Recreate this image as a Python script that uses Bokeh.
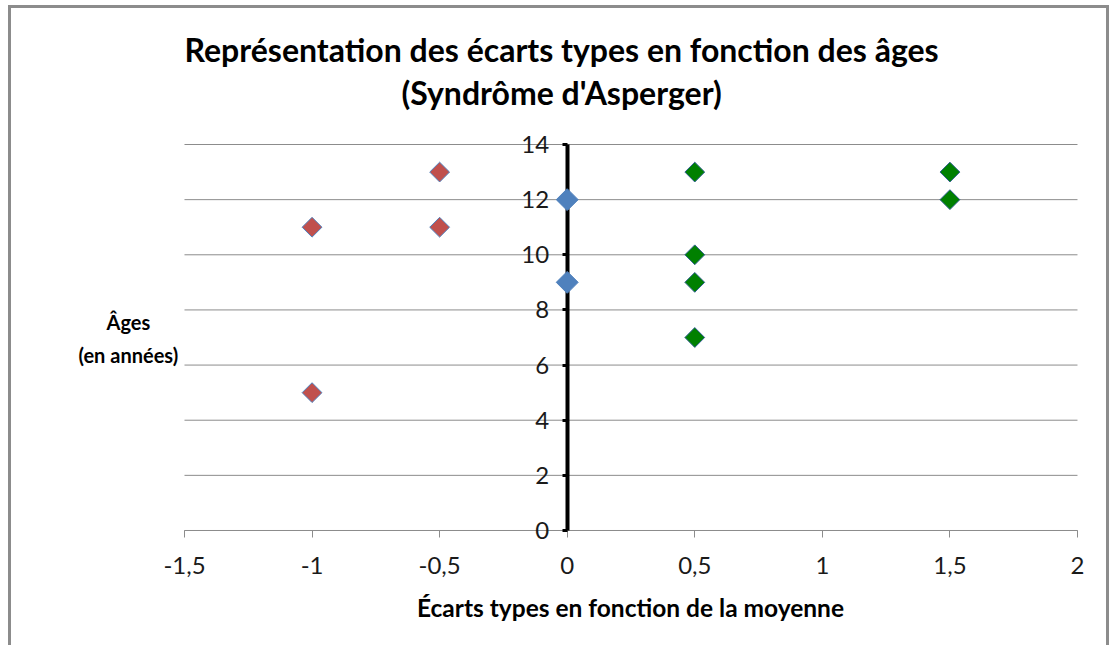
from bokeh.plotting import figure
from bokeh.models import Range1d, FixedTicker, Label
from bokeh.embed import file_html
from bokeh.resources import INLINE
import math

# ---- data ----
red_x = [-1.0, -1.0, -0.5, -0.5]
red_y = [11, 5, 13, 11]
blue_x = [0.0, 0.0]
blue_y = [12, 9]
green_x = [0.5, 0.5, 0.5, 0.5, 1.5, 1.5]
green_y = [13, 10, 9, 7, 13, 12]

x_ticks = [-1.5, -1.0, -0.5, 0.0, 0.5, 1.0, 1.5, 2.0]
x_tick_labels = ["-1,5", "-1", "-0,5", "0", "0,5", "1", "1,5", "2"]
y_ticks = [0, 2, 4, 6, 8, 10, 12, 14]

title_lines = ["Représentation des écarts types en fonction des âges", "(Syndrôme d'Asperger)"]
x_label = "Écarts types en fonction de la moyenne"
y_label_lines = ["Âges", "(en années)"]

FONT = "Lato"

# the plotting frame covers the whole canvas; the axes sit at fixed locations
p = figure(width=1101, height=640, output_backend="svg", toolbar_location=None,
           x_range=Range1d(-2.178, 2.1372), y_range=Range1d(-4.280, 18.933),
           min_border_left=0, min_border_right=0, min_border_top=0, min_border_bottom=0)
p.title.visible = False
p.styles = {"border-left": "3px solid #8c8c8c", "border-top": "3px solid #8c8c8c",
            "border-right": "3px solid #8c8c8c", "margin-left": "8px", "margin-top": "5px"}
p.outline_line_color = None
p.background_fill_color = "white"
p.border_fill_color = "white"

# grid lines (only over the axis span)
p.xgrid.visible = False
p.ygrid.visible = False
n = len(y_ticks)
p.segment(x0=[x_ticks[0]] * n, x1=[x_ticks[-1]] * n, y0=y_ticks, y1=y_ticks,
          line_color="#8c8c8c", line_width=1, level="underlay")

# x axis at y = 0
xa = p.xaxis[0]
xa.fixed_location = 0
xa.bounds = (x_ticks[0], x_ticks[-1])
xa.ticker = FixedTicker(ticks=x_ticks)
xa.major_label_overrides = {t: l for t, l in zip(x_ticks, x_tick_labels)}
xa.axis_line_color = "#8c8c8c"
xa.major_tick_line_color = "#8c8c8c"
xa.major_tick_in = 0
xa.major_tick_out = 7
xa.minor_tick_line_color = None
xa.major_label_text_font = FONT
xa.major_label_text_font_size = "24px"
xa.major_label_text_color = "#1a1a1a"
xa.major_label_standoff = 20

# y axis at x = 0
ya = p.yaxis[0]
ya.fixed_location = 0
ya.bounds = (y_ticks[0], y_ticks[-1])
ya.ticker = FixedTicker(ticks=y_ticks)
ya.axis_line_color = "black"
ya.axis_line_width = 4
ya.major_tick_line_color = "black"
ya.major_tick_line_width = 3
ya.major_tick_in = 0
ya.major_tick_out = 5
ya.minor_tick_line_color = None
ya.major_label_text_font = FONT
ya.major_label_text_font_size = "24px"
ya.major_label_text_color = "#1a1a1a"
ya.major_label_standoff = 13

# markers (rotated squares = Excel diamonds)
ang = math.pi / 4
p.scatter(red_x, red_y, marker="square", size=14, angle=ang,
          fill_color="#C0504D", line_color="#4F81BD", line_width=1, level="overlay")
p.scatter(green_x, green_y, marker="square", size=14, angle=ang,
          fill_color="#008000", line_color="#2F5F8F", line_width=1, level="overlay")
p.scatter(blue_x, blue_y, marker="square", size=15.5, angle=ang,
          fill_color="#4F81BD", line_color="#4F81BD", line_width=1, level="overlay")

# title (two centered lines)
for ty, txt in zip([17.44, 15.90], title_lines):
    p.add_layout(Label(x=-0.022, y=ty, text=txt, text_align="center", text_baseline="middle",
                       text_font=FONT, text_font_style="bold", text_font_size="32px",
                       text_color="#000000"))

# x axis title
p.add_layout(Label(x=0.248, y=-2.79, text=x_label, text_align="center", text_baseline="middle",
                   text_font=FONT, text_font_style="bold", text_font_size="24.5px",
                   text_color="#000000"))

# y axis title (horizontal, two lines)
for ly, txt in zip([7.58, 6.38], y_label_lines):
    p.add_layout(Label(x=-1.72, y=ly, text=txt, text_align="center", text_baseline="middle",
                       text_font=FONT, text_font_style="bold", text_font_size="20px",
                       text_color="#000000"))

open("out.html", "w").write(file_html(p, INLINE))
